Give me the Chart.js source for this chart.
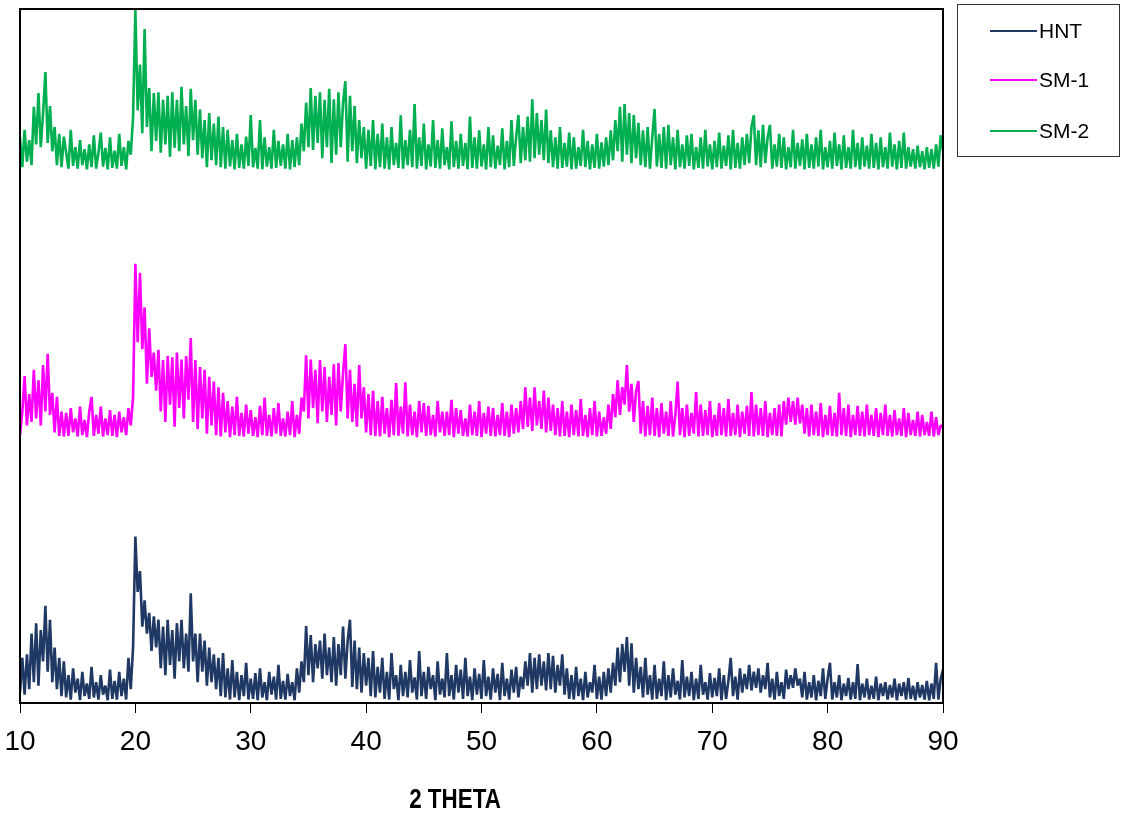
<!DOCTYPE html>
<html>
<head>
<meta charset="utf-8">
<script src="https://cdn.jsdelivr.net/npm/chart.js@4"></script>
<style>
  html, body { margin: 0; padding: 0; background: #fff; }
  #myChart { display: block; }
</style>
</head>
<body>
<canvas id="myChart" width="1121" height="816"></canvas>
<script>
// 2-theta sampling: 10 to 90 in 0.2 degree steps, 5 readings per degree (one row = one degree)
const thetaStart = 10;
const thetaStep = 0.2;
const xTicks = [10, 20, 30, 40, 50, 60, 70, 80, 90];
const seriesNames = ["HNT", "SM-1", "SM-2"];
const seriesColors = ["#203864", "#ff00ff", "#00b050"];

const hnt = [
  1.5, 6.5, 1.2, 7.0, 2.0,   10.0, 3.0, 11.5, 2.5, 10.5,   6.0, 14.0, 4.5, 12.0, 3.0,   8.0, 2.0, 6.5, 1.0, 6.0,
  0.8, 4.0, 0.5, 5.0, 1.5,   3.5, 0.4, 4.5, 1.0, 2.8,     0.6, 5.2, 0.8, 3.0, 0.5,    4.0, 1.2, 2.5, 0.4, 4.8,
  0.6, 3.2, 0.5, 4.5, 1.0,   3.5, 0.5, 6.5, 2.0, 8.0,     24.0, 16.0, 19.0, 11.0, 14.8, 10.0, 13.0, 7.5, 12.5, 8.0,
  12.0, 5.0, 11.0, 4.0, 12.0, 5.5, 10.5, 3.5, 11.5, 6.0,  12.0, 5.0, 10.0, 4.5, 15.8, 6.0, 10.0, 3.0, 10.0, 4.5,
  9.0, 2.5, 8.0, 3.0, 7.0,   2.0, 6.5, 1.0, 7.2, 0.8,     5.0, 0.5, 6.2, 0.8, 4.5,    0.4, 4.0, 1.0, 5.8, 0.5,
  3.5, 0.6, 4.3, 0.4, 5.0,   0.8, 3.0, 0.4, 4.5, 1.2,     3.8, 0.5, 5.5, 0.6, 3.2,    0.5, 4.2, 1.0, 3.0, 0.4,
  5.0, 1.5, 6.0, 3.0, 11.1,  4.0, 9.8, 3.0, 8.5, 5.0,     9.0, 3.5, 10.0, 4.0, 8.0,   3.0, 9.5, 2.5, 8.5, 4.0,
  11.0, 3.5, 9.0, 12.0, 2.3, 9.0, 2.0, 8.0, 1.5, 7.2,     2.5, 6.5, 1.0, 7.5, 0.8,    5.2, 1.5, 6.5, 0.6, 4.5,
  0.5, 7.2, 2.0, 4.0, 0.4,   5.5, 1.0, 4.5, 0.8, 6.2,     1.5, 3.7, 0.5, 7.5, 1.0,    4.5, 0.6, 5.2, 2.0, 4.0,
  0.4, 6.0, 1.2, 3.5, 0.8,   7.2, 1.0, 4.0, 0.5, 5.5,     1.5, 4.8, 0.6, 6.5, 1.0,    3.8, 0.4, 5.0, 1.2, 4.2,
  0.6, 6.2, 1.0, 3.8, 0.5,   5.0, 1.5, 4.2, 0.4, 5.8,     1.0, 3.5, 0.5, 4.8, 1.5,    5.2, 0.8, 3.8, 2.0, 6.0,
  2.5, 7.2, 1.5, 6.5, 2.0,   7.0, 2.5, 6.0, 1.8, 7.2,     2.0, 6.8, 1.5, 5.5, 2.5,    7.0, 1.2, 5.0, 0.6, 4.0,
  0.5, 5.2, 1.0, 3.5, 0.4,   4.5, 0.8, 3.0, 1.5, 5.5,     0.6, 3.8, 0.5, 4.5, 1.0,    5.0, 1.5, 5.8, 2.5, 8.0,
  3.0, 8.5, 4.5, 9.5, 2.5,   8.6, 1.5, 6.5, 2.0, 5.2,     0.8, 6.5, 1.2, 4.0, 0.5,    5.5, 0.6, 3.5, 1.0, 6.0,
  0.4, 4.0, 0.8, 5.0, 1.2,   3.2, 0.5, 6.2, 0.8, 3.8,     1.0, 4.5, 0.4, 3.5, 0.6,    5.5, 1.2, 3.0, 0.5, 4.3,
  0.8, 3.6, 1.0, 5.0, 0.4,   4.0, 0.6, 3.2, 6.5, 1.0,     3.8, 0.5, 5.0, 1.5, 4.2,    2.0, 5.5, 1.8, 4.5, 2.2,
  5.0, 1.5, 4.0, 2.0, 5.8,   0.8, 3.5, 0.5, 4.5, 1.0,     3.0, 0.6, 4.8, 2.0, 4.0,    2.2, 5.0, 2.5, 3.5, 0.8,
  4.5, 0.5, 3.0, 0.8, 4.0,   0.4, 3.2, 1.0, 5.0, 0.6,     3.5, 5.8, 0.5, 3.0, 0.8,    4.0, 0.4, 2.8, 1.0, 3.6,
  0.5, 3.0, 0.6, 5.6, 0.4,   2.8, 0.8, 3.5, 0.5, 2.5,     0.6, 3.8, 0.4, 2.8, 1.0,    3.0, 0.5, 2.6, 0.8, 3.5,
  0.4, 2.8, 1.0, 3.0, 0.5,   3.6, 0.6, 2.5, 0.4, 3.0,     0.8, 2.6, 0.5, 3.2, 0.4,    2.8, 0.6, 5.8, 0.5, 3.5,
  4.8
];

const sm1 = [
  38.6, 42.0, 47.1, 40.0, 44.5, 40.5, 48.0, 41.0, 46.5, 40.0, 48.7, 42.0, 50.3, 41.5, 44.7, 39.0, 44.1, 38.5, 42.0, 38.4,
  41.8, 38.5, 42.5, 39.0, 41.0, 38.4, 42.7, 38.6, 40.8, 38.3, 42.0, 44.1, 38.5, 41.5, 38.8, 42.7, 38.4, 41.0, 38.6, 42.2,
  38.5, 41.5, 38.3, 42.0, 39.0, 41.2, 38.6, 42.5, 40.0, 44.0, 63.3, 52.0, 62.0, 51.0, 57.0, 46.0, 54.0, 47.0, 50.5, 45.0,
  50.9, 42.0, 49.4, 40.5, 50.0, 43.0, 49.8, 39.8, 50.5, 42.5, 49.5, 41.0, 50.0, 43.7, 52.6, 40.5, 49.4, 39.5, 48.4, 41.0,
  48.0, 38.8, 47.0, 40.0, 46.3, 38.6, 45.5, 38.4, 44.7, 39.0, 43.5, 38.3, 42.7, 38.6, 44.1, 38.5, 41.8, 38.4, 43.0, 38.8,
  42.2, 38.5, 41.2, 38.3, 42.8, 38.6, 44.0, 38.5, 41.5, 38.4, 42.5, 38.8, 43.2, 38.5, 41.0, 38.4, 42.0, 38.6, 43.5, 38.3,
  41.5, 38.8, 44.0, 42.0, 50.1, 41.0, 49.5, 42.5, 48.0, 40.3, 49.4, 42.0, 48.4, 40.5, 47.0, 41.5, 48.8, 40.0, 49.0, 42.0,
  47.5, 51.7, 41.0, 48.0, 40.5, 46.0, 39.8, 48.7, 41.0, 45.5, 39.0, 44.5, 38.6, 45.0, 38.5, 43.5, 38.4, 44.1, 38.8, 42.5,
  38.3, 43.7, 38.6, 46.1, 38.5, 42.7, 38.8, 46.2, 38.4, 43.0, 38.6, 42.0, 38.3, 43.5, 39.0, 43.2, 38.5, 42.8, 38.6, 41.5,
  38.4, 43.5, 39.0, 42.0, 38.5, 42.0, 38.6, 43.7, 38.3, 42.5, 38.8, 42.2, 38.5, 41.0, 38.4, 43.0, 38.6, 42.0, 38.5, 43.5,
  38.3, 41.8, 38.8, 42.7, 38.5, 42.5, 38.4, 41.5, 38.6, 43.2, 38.5, 42.0, 38.3, 43.0, 38.8, 42.5, 39.0, 43.5, 39.5, 45.5,
  39.8, 44.0, 39.2, 45.5, 40.0, 43.5, 39.5, 45.0, 39.0, 44.0, 39.2, 43.0, 38.6, 42.5, 38.4, 43.5, 38.5, 42.0, 38.3, 43.0,
  38.6, 42.2, 38.4, 43.8, 38.5, 41.5, 38.3, 42.5, 38.6, 43.5, 38.4, 42.0, 38.5, 41.2, 38.8, 43.0, 39.5, 44.5, 41.2, 46.5,
  41.5, 45.5, 43.0, 48.7, 42.0, 46.0, 40.5, 45.0, 46.4, 38.8, 43.5, 38.4, 42.8, 38.6, 44.0, 38.5, 42.5, 38.3, 43.2, 38.8,
  42.0, 38.5, 43.5, 38.4, 41.5, 46.3, 38.6, 42.5, 38.3, 43.0, 38.5, 41.8, 38.8, 44.8, 38.4, 43.0, 38.5, 42.2, 38.6, 43.5,
  38.3, 41.5, 38.5, 43.2, 38.6, 42.5, 38.4, 43.8, 38.5, 41.8, 38.6, 43.0, 38.3, 42.0, 38.8, 42.8, 38.5, 44.8, 38.4, 43.0,
  38.6, 42.5, 38.5, 43.5, 38.3, 41.8, 38.6, 42.5, 38.5, 43.0, 38.4, 43.5, 40.1, 44.0, 40.5, 43.5, 40.1, 44.0, 40.3, 43.0,
  38.8, 42.5, 38.4, 43.0, 38.6, 42.0, 38.5, 43.2, 38.3, 41.5, 38.6, 42.8, 38.5, 41.8, 38.4, 44.7, 38.6, 42.5, 38.5, 43.0,
  38.3, 41.5, 38.6, 42.8, 38.5, 42.0, 38.4, 43.0, 38.6, 41.5, 38.5, 42.5, 38.3, 41.8, 38.6, 43.0, 38.5, 41.5, 38.4, 42.2,
  38.6, 41.0, 38.5, 42.5, 38.3, 41.8, 38.6, 40.8, 38.5, 42.0, 38.4, 41.5, 38.6, 40.5, 38.5, 42.0, 38.4, 41.2, 38.6, 40.0,
  39.8
];

const sm2 = [
  81.5, 77.2, 82.6, 78.0, 81.1, 77.5, 85.9, 80.5, 87.9, 80.1, 85.0, 90.9, 80.7, 86.0, 79.5, 83.0, 77.5, 82.0, 77.2, 81.6,
  79.3, 77.0, 82.6, 77.4, 80.1, 77.0, 81.1, 77.5, 79.8, 76.9, 80.5, 77.2, 81.8, 77.0, 79.3, 82.2, 77.3, 80.0, 76.9, 81.5,
  77.1, 79.6, 77.0, 82.0, 77.4, 80.1, 76.9, 81.0, 79.0, 84.4, 99.9, 85.4, 92.0, 82.1, 97.1, 83.0, 88.6, 79.5, 87.9, 81.0,
  88.0, 79.3, 86.9, 80.5, 87.5, 78.7, 88.0, 80.0, 86.9, 79.5, 88.8, 80.5, 86.0, 78.8, 88.5, 81.1, 86.9, 79.0, 85.5, 78.5,
  84.0, 77.2, 85.0, 78.2, 83.5, 77.5, 84.5, 77.2, 83.0, 77.0, 82.6, 77.3, 81.1, 76.9, 82.0, 77.1, 80.5, 77.0, 81.6, 77.4,
  84.7, 77.2, 80.0, 77.0, 84.0, 76.9, 81.5, 77.3, 80.1, 77.0, 82.6, 77.1, 81.0, 77.4, 80.5, 77.0, 82.0, 76.9, 81.1, 77.2,
  81.5, 77.5, 83.5, 79.5, 86.5, 80.1, 88.6, 79.7, 87.5, 80.7, 88.0, 78.5, 86.9, 80.1, 88.5, 77.8, 87.0, 79.0, 88.0, 80.1,
  86.5, 89.6, 78.0, 87.5, 79.5, 86.0, 77.8, 84.0, 78.5, 83.0, 77.0, 82.6, 77.4, 84.0, 76.9, 82.0, 77.2, 83.5, 77.0, 81.5,
  76.9, 83.0, 77.5, 80.7, 77.1, 84.7, 77.0, 81.1, 77.5, 82.6, 77.2, 86.3, 77.0, 81.5, 77.4, 83.5, 76.9, 80.5, 77.3, 84.0,
  77.1, 81.1, 77.0, 82.8, 77.5, 80.1, 76.9, 83.8, 77.2, 81.0, 77.0, 82.0, 77.4, 80.7, 76.9, 84.5, 77.1, 81.5, 77.0, 82.5,
  77.3, 80.5, 76.9, 83.0, 77.2, 81.8, 77.0, 80.3, 77.5, 82.8, 76.9, 81.0, 77.2, 84.0, 77.4, 81.5, 84.7, 77.8, 83.0, 78.2,
  84.5, 78.0, 87.0, 78.5, 85.0, 79.0, 84.0, 78.2, 85.5, 77.8, 82.5, 77.2, 81.5, 77.0, 83.0, 77.1, 80.7, 77.3, 82.2, 76.9,
  81.5, 77.0, 80.1, 77.4, 82.6, 77.2, 81.0, 76.9, 80.5, 77.1, 82.0, 77.0, 80.8, 77.3, 81.5, 77.5, 82.5, 78.2, 84.0, 79.5,
  85.9, 78.0, 86.3, 79.0, 85.0, 77.8, 84.7, 78.5, 83.6, 77.5, 82.5, 77.2, 83.0, 77.0, 81.5, 85.6, 77.3, 82.0, 77.1, 83.0,
  77.0, 83.3, 77.5, 81.5, 76.9, 82.6, 77.2, 80.5, 77.0, 81.8, 77.4, 82.0, 76.9, 80.1, 77.1, 81.5, 77.0, 82.6, 77.3, 80.5,
  76.9, 81.0, 77.2, 82.2, 77.0, 80.3, 77.4, 81.8, 76.9, 82.6, 77.1, 80.7, 77.0, 81.5, 77.5, 82.0, 77.8, 83.0, 84.7, 77.5,
  82.5, 77.2, 83.3, 77.8, 81.5, 83.3, 77.0, 80.5, 77.3, 82.0, 77.1, 81.5, 76.9, 80.1, 77.2, 82.6, 77.0, 80.7, 77.4, 81.2,
  76.9, 82.0, 77.1, 80.5, 77.0, 81.5, 77.3, 82.6, 76.9, 80.1, 77.2, 81.0, 77.0, 82.2, 77.4, 80.5, 76.9, 81.8, 77.1, 80.1,
  77.0, 82.6, 77.2, 80.7, 76.9, 81.5, 77.3, 80.3, 77.0, 82.0, 77.1, 80.7, 76.9, 81.5, 77.2, 80.1, 77.0, 82.2, 77.3, 80.5,
  76.9, 81.0, 77.1, 82.2, 77.0, 80.1, 77.3, 79.8, 77.0, 80.3, 77.2, 79.5, 76.9, 80.1, 77.1, 79.8, 77.0, 80.5, 77.3, 81.8,
  79.5
];

function toPoints(values) {
  return values.map((v, i) => ({ x: thetaStart + i * thetaStep, y: v }));
}

const FONT = "'Liberation Sans', Arial, sans-serif";

// outer frame, custom legend box and the axis title
const framePlugin = {
  id: "frame",
  afterDraw(chart) {
    const c = chart.ctx;
    const a = chart.chartArea;
    c.save();
    c.strokeStyle = "#000";
    c.lineWidth = 2;
    c.strokeRect(a.left, a.top, a.right - a.left, a.bottom - a.top);

    // legend
    c.strokeStyle = "#333";
    c.lineWidth = 1;
    c.strokeRect(957.5, 4.5, 162, 152);
    c.font = "21px " + FONT;
    c.textBaseline = "middle";
    c.fillStyle = "#000";
    const rows = [31, 80, 131];
    chart.data.datasets.forEach((ds, i) => {
      c.strokeStyle = ds.borderColor;
      c.lineWidth = 2;
      c.beginPath();
      c.moveTo(990, rows[i]);
      c.lineTo(1037, rows[i]);
      c.stroke();
      c.fillText(ds.label, 1039, rows[i] + 1);
    });

    // axis title, condensed like the original
    c.font = "bold 28px " + FONT;
    c.textAlign = "center";
    c.translate(455, 800);
    c.scale(0.8, 1);
    c.fillText("2 THETA", 0, 0);
    c.restore();
  }
};

const ctx = document.getElementById("myChart").getContext("2d");
new Chart(ctx, {
  type: "line",
  data: {
    datasets: [
      { label: seriesNames[0], data: toPoints(hnt), borderColor: seriesColors[0] },
      { label: seriesNames[1], data: toPoints(sm1), borderColor: seriesColors[1] },
      { label: seriesNames[2], data: toPoints(sm2), borderColor: seriesColors[2] }
    ]
  },
  options: {
    responsive: false,
    animation: false,
    devicePixelRatio: 1,
    layout: { padding: { left: 20, right: 178, top: 9, bottom: 0 } },
    elements: {
      line: { borderWidth: 2.6, tension: 0, borderJoinStyle: "bevel" },
      point: { radius: 0 }
    },
    plugins: {
      legend: { display: false },
      tooltip: { enabled: false }
    },
    scales: {
      x: {
        type: "linear",
        min: 10,
        max: 90,
        afterBuildTicks(axis) {
          axis.ticks = xTicks.map(v => ({ value: v }));
        },
        afterFit(axis) {
          axis.height = 113;
          axis.paddingLeft = 0;
          axis.paddingRight = 0;
        },
        grid: { drawOnChartArea: false, tickLength: 10, color: "#000", lineWidth: 1 },
        border: { color: "#000", width: 2 },
        ticks: { autoSkip: false, padding: 12, color: "#000", font: { family: FONT, size: 28 }, maxRotation: 0 }
      },
      y: {
        display: false,
        min: 0,
        max: 100
      }
    }
  },
  plugins: [framePlugin]
});
</script>
</body>
</html>
